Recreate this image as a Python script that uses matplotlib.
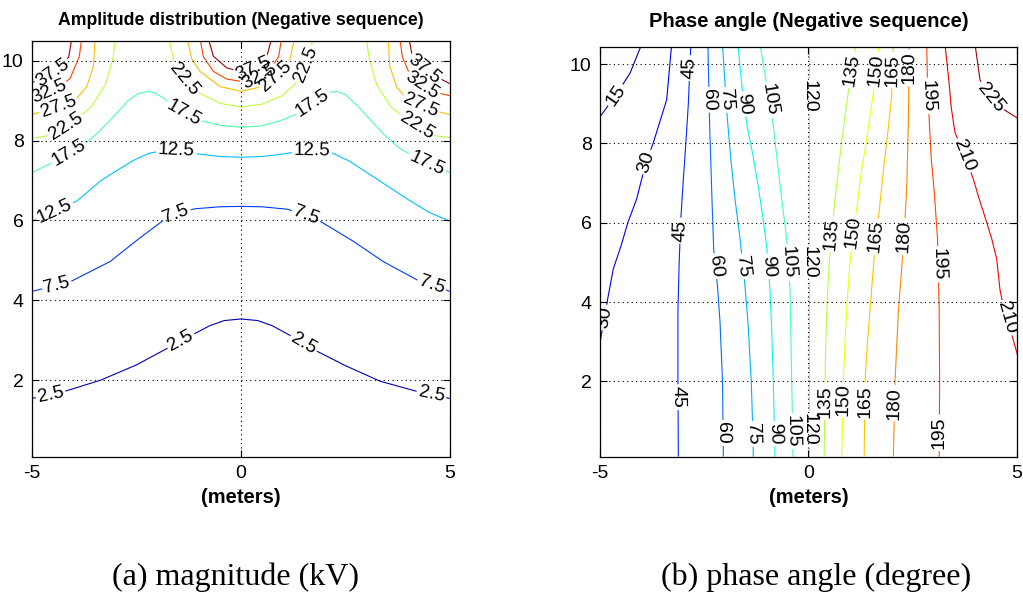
import numpy as np
import matplotlib
matplotlib.use("Agg")
import matplotlib.pyplot as plt
from matplotlib.contour import ContourSet
from matplotlib.colors import Normalize
from matplotlib import font_manager as fm

# ---------------- data ----------------
# (a) magnitude (kV): contour levels and the lines traced for each level (x in m, y in m)
amp_levels = [2.5, 7.5, 12.5, 17.5, 22.5, 27.5, 32.5, 37.5]
amp_2p5 = [[(-5, 1.54), (-4.3, 1.69), (-3.35, 2.0), (-2.5, 2.38), (-1.7, 2.83), (-1.15, 3.14),
            (-0.75, 3.36), (-0.4, 3.49), (0, 3.53), (0.4, 3.49), (0.75, 3.36), (1.17, 3.12),
            (1.82, 2.72), (2.5, 2.36), (3.33, 1.97), (4.3, 1.69), (5, 1.54)]]
amp_7p5 = [[(-5, 4.22), (-4.07, 4.47), (-3.13, 4.97), (-2.42, 5.56), (-1.78, 6.06), (-1.45, 6.2),
            (-1.1, 6.29), (-0.5, 6.34), (0, 6.35), (0.5, 6.34), (1.1, 6.28), (1.45, 6.17),
            (1.89, 5.98), (2.68, 5.48), (3.4, 4.97), (4.28, 4.47), (5, 4.22)]]
amp_12p5 = [[(-5, 5.98), (-4.5, 6.2), (-3.92, 6.49), (-3.35, 7.0), (-2.58, 7.5), (-2.2, 7.68),
             (-1.8, 7.76), (-1.4, 7.73), (-1.0, 7.66), (-0.5, 7.6), (0, 7.58), (0.5, 7.6),
             (1.0, 7.66), (1.4, 7.73), (1.8, 7.76), (2.2, 7.68), (2.6, 7.48), (3.3, 7.0),
             (4.0, 6.52), (4.5, 6.2), (5, 5.98)]]
amp_17p5 = [[(-5, 7.2), (-4.5, 7.45), (-3.7, 7.95), (-3.45, 8.17), (-3.05, 8.6), (-2.7, 9.0),
             (-2.45, 9.18), (-2.23, 9.23), (-2.05, 9.19), (-1.85, 9.06), (-1.6, 8.82),
             (-1.3, 8.63), (-0.98, 8.5), (-0.5, 8.38), (0, 8.33), (0.5, 8.37), (0.95, 8.5),
             (1.3, 8.65), (1.65, 8.9), (1.9, 9.1), (2.12, 9.21), (2.3, 9.23), (2.5, 9.15),
             (2.85, 8.8), (3.4, 8.17), (3.8, 7.8), (4.4, 7.45), (5, 7.2)]]
amp_22p5 = [[(-5, 8.05), (-4.57, 8.13), (-4.01, 8.47), (-3.58, 8.85), (-3.25, 9.39), (-3.07, 10.03),
             (-3.0, 10.55)],
            [(-1.72, 10.55), (-1.6, 9.95), (-1.35, 9.5), (-0.98, 9.18), (-0.5, 8.93), (0, 8.84),
             (0.5, 8.91), (0.98, 9.12), (1.3, 9.42), (1.55, 9.88), (1.73, 10.55)],
            [(3.0, 10.55), (3.07, 10.03), (3.25, 9.39), (3.58, 8.85), (4.01, 8.47), (4.57, 8.13),
             (5, 8.07)]]
amp_27p5 = [[(-5, 8.66), (-4.57, 8.76), (-4.0, 8.97), (-3.69, 9.35), (-3.53, 9.86), (-3.49, 10.55)],
            [(-1.29, 10.55), (-1.17, 10.03), (-0.98, 9.73), (-0.5, 9.35), (0, 9.23), (0.5, 9.35),
             (0.98, 9.73), (1.17, 10.03), (1.28, 10.55)],
            [(3.52, 10.55), (3.56, 9.86), (3.72, 9.35), (4.02, 8.97), (4.57, 8.76), (5, 8.65)]]
amp_32p5 = [[(-5, 9.1), (-4.5, 9.25), (-4.09, 9.55), (-3.87, 10.1), (-3.81, 10.55)],
            [(-0.98, 10.55), (-0.9, 10.1), (-0.66, 9.73), (-0.34, 9.54), (0, 9.48), (0.34, 9.54),
             (0.66, 9.73), (0.9, 10.1), (0.97, 10.55)],
            [(3.8, 10.55), (3.86, 10.1), (4.08, 9.55), (4.5, 9.25), (5, 9.12)]]
amp_37p5 = [[(-5, 9.45), (-4.4, 9.75), (-4.12, 10.1), (-4.05, 10.55)],
            [(-0.78, 10.55), (-0.66, 10.11), (-0.34, 9.82), (0, 9.72), (0.34, 9.82), (0.62, 10.11),
             (0.73, 10.55)],
            [(4.02, 10.55), (4.1, 10.1), (4.4, 9.75), (5, 9.42)]]
amp_lines = [amp_2p5, amp_7p5, amp_12p5, amp_17p5, amp_22p5, amp_27p5, amp_32p5, amp_37p5]

# (b) phase angle (degree)
ph_levels = [15, 30, 45, 60, 75, 90, 105, 120, 135, 150, 165, 180, 195, 210, 225]
ph_15 = [[(-5.05, 8.6), (-4.6, 9.25), (-4.28, 9.77), (-4.0, 10.5)]]
ph_30 = [[(-3.28, 10.5), (-3.4, 9.1), (-3.72, 8.02), (-3.9, 7.5), (-4.0, 7.1), (-4.12, 6.6),
          (-4.33, 6.01), (-4.5, 5.4), (-4.68, 4.84), (-4.83, 4.0), (-4.93, 3.4), (-5.02, 2.85)]]
ph_45 = [[(-3.12, 0.1), (-3.13, 2.0), (-3.13, 3.75), (-3.1, 5.0), (-3.06, 6.1), (-3.0, 7.1),
          (-2.94, 8.0), (-2.88, 9.0), (-2.82, 10.5)]]
ph_60 = [[(-2.04, 0.1), (-2.06, 2.0), (-2.12, 3.5), (-2.18, 4.4), (-2.27, 5.3), (-2.31, 6.5),
          (-2.34, 7.5), (-2.37, 8.5), (-2.41, 10.5)]]
ph_75 = [[(-1.32, 0.1), (-1.34, 1.0), (-1.37, 2.0), (-1.45, 3.5), (-1.52, 4.4), (-1.64, 5.6),
          (-1.76, 6.6), (-1.86, 7.6), (-1.95, 8.7), (-2.0, 9.5), (-2.06, 10.5)]]
ph_90 = [[(-0.8, 0.1), (-0.82, 1.0), (-0.84, 2.0), (-0.88, 3.3), (-0.92, 4.3), (-1.0, 5.4),
          (-1.1, 6.2), (-1.2, 6.9), (-1.33, 7.7), (-1.48, 8.5), (-1.6, 9.5), (-1.69, 10.5)]]
ph_105 = [[(-0.37, 0.1), (-0.38, 1.0), (-0.4, 2.0), (-0.44, 4.3), (-0.52, 5.6), (-0.64, 6.6),
           (-0.74, 7.5), (-0.84, 8.43), (-1.0, 9.5), (-1.16, 10.5)]]
ph_120 = [[(0.02, 0.1), (0.02, 10.5)]]
ph_135 = [[(0.38, 0.1), (0.39, 1.0), (0.4, 2.0), (0.42, 3.0), (0.45, 4.0), (0.5, 5.0), (0.57, 5.8),
           (0.64, 6.6), (0.75, 7.6), (0.88, 8.7), (1.0, 9.6), (1.14, 10.5)]]
ph_150 = [[(0.8, 0.1), (0.82, 1.0), (0.84, 2.0), (0.88, 3.0), (0.93, 4.0), (1.0, 5.0), (1.08, 5.8),
           (1.18, 6.5), (1.26, 7.2), (1.4, 8.1), (1.55, 9.2), (1.7, 10.5)]]
ph_165 = [[(1.34, 0.1), (1.35, 1.0), (1.36, 2.0), (1.42, 3.0), (1.48, 3.8), (1.6, 5.4), (1.7, 6.3),
           (1.76, 6.9), (1.82, 7.5), (1.92, 8.4), (2.0, 9.2), (2.04, 10.5)]]
ph_180 = [[(2.04, 0.1), (2.06, 1.0), (2.08, 2.0), (2.16, 3.75), (2.28, 5.4), (2.36, 6.85),
           (2.4, 8.5), (2.42, 10.5)]]
ph_195 = [[(3.14, 0.1), (3.15, 2.0), (3.14, 3.8), (3.1, 5.6), (3.02, 6.8), (2.95, 7.6),
           (2.9, 8.6), (2.86, 9.5), (2.84, 10.5)]]
ph_210 = [[(5.05, 2.55), (4.85, 3.3), (4.68, 3.9), (4.6, 4.3), (4.52, 5.09), (4.4, 5.6), (4.28, 6.01),
           (4.1, 6.6), (3.96, 7.1), (3.75, 7.7), (3.52, 8.27), (3.43, 8.9), (3.38, 9.5), (3.28, 10.5)]]
ph_225 = [[(4.0, 10.5), (4.12, 9.6), (4.4, 9.1), (4.7, 8.85), (5.05, 8.62)]]
ph_lines = [ph_15, ph_30, ph_45, ph_60, ph_75, ph_90, ph_105, ph_120, ph_135, ph_150, ph_165,
            ph_180, ph_195, ph_210, ph_225]

# ---------------- label placement (layout) ----------------
amp_label_at = [
    (2.5, -4.55, 1.62), (2.5, -1.45, 3.0), (2.5, 1.5, 2.92), (2.5, 4.55, 1.62),
    (7.5, -4.4, 4.35), (7.5, -1.55, 6.15), (7.5, 1.55, 6.1), (7.5, 4.55, 4.35),
    (12.5, -4.45, 6.2), (12.5, -1.55, 7.74), (12.5, 1.7, 7.72),
    (17.5, -4.1, 7.65), (17.5, -1.4, 8.65), (17.5, 1.7, 8.95), (17.5, 4.45, 7.45),
    (22.5, -4.2, 8.37), (22.5, -1.4, 9.52), (22.5, 1.55, 9.9), (22.5, 4.2, 8.35),
    (27.5, -4.36, 8.85), (27.5, 0.85, 9.6), (27.5, 4.3, 8.9),
    (32.5, -4.6, 9.25), (32.5, 0.45, 9.58), (32.5, 4.35, 9.4),
    (37.5, -4.5, 9.7), (37.5, 0.3, 9.76), (37.5, 4.4, 9.8),
]
ph_label_at = [
    (15, -4.6, 9.2), (30, -3.85, 7.52), (30, -4.83, 3.6),
    (45, -2.85, 9.9), (45, -3.06, 5.8), (45, -3.13, 1.6),
    (60, -2.39, 9.1), (60, -2.26, 4.9), (60, -2.05, 0.7),
    (75, -2.0, 9.1), (75, -1.57, 4.9), (75, -1.33, 0.68),
    (90, -1.55, 9.0), (90, -0.96, 4.9), (90, -0.81, 0.68),
    (105, -0.94, 9.1), (105, -0.49, 5.0), (105, -0.38, 0.75),
    (120, 0.02, 9.2), (120, 0.02, 5.0), (120, 0.02, 0.8),
    (135, 1.04, 9.85), (135, 0.55, 5.7), (135, 0.39, 1.5),
    (150, 1.62, 9.85), (150, 1.07, 5.75), (150, 0.83, 1.55),
    (165, 2.02, 9.85), (165, 1.63, 5.65), (165, 1.36, 1.5),
    (180, 2.42, 9.9), (180, 2.3, 5.65), (180, 2.07, 1.45),
    (195, 2.88, 9.2), (195, 3.11, 4.95), (195, 3.14, 0.7),
    (210, 3.75, 7.7), (210, 4.75, 3.6),
    (225, 4.35, 9.15),
]

x_ticks = [-5, 0, 5]
y_ticks = [2, 4, 6, 8, 10]


# ---------------- fonts ----------------
def has_font(name):
    try:
        fm.findfont(fm.FontProperties(family=name), fallback_to_default=False)
        return True
    except Exception:
        return False


plt.rcParams['font.family'] = ['Liberation Sans', 'DejaVu Sans']
plt.rcParams['axes.unicode_minus'] = False
NARROW = has_font('Liberation Sans Narrow')
narrow_fam = ['Liberation Sans Narrow', 'Liberation Sans', 'DejaVu Sans'] if NARROW else ['Liberation Sans', 'DejaVu Sans']


def on_line(segs, x, y):
    best = None
    for s in segs:
        for (x0, y0), (x1, y1) in zip(s[:-1], s[1:]):
            dx, dy = x1 - x0, y1 - y0
            t = ((x - x0) * dx + (y - y0) * dy) / (dx * dx + dy * dy)
            t = min(max(t, 0.0), 1.0)
            px, py = x0 + t * dx, y0 + t * dy
            d = (px - x) ** 2 + (py - y) ** 2
            if best is None or d < best[0]:
                best = (d, px, py)
    return best[1], best[2]


def style_axes(ax, ylim, xlabel_y):
    ax.set_xlim(-5, 5)
    ax.set_ylim(*ylim)
    ax.set_xticks(x_ticks)
    ax.set_yticks(y_ticks)
    ax.tick_params(direction='in', length=5, width=0.8, top=True, right=True,
                   labelsize=14, pad=6)
    ax.grid(True, color='black', linestyle=(0, (1, 3)), linewidth=0.8)
    ax.set_axisbelow(False)
    for sp in ax.spines.values():
        sp.set_linewidth(0.9)
        sp.set_color('black')
    ax.set_xlabel('(meters)', family=narrow_fam, fontweight='bold',
                  fontsize=17.5 if NARROW else 14.5)
    ax.xaxis.set_label_coords(0.5, xlabel_y)


def draw_contours(ax, levels, lines, vmin, vmax, label_at, fsize):
    allsegs = [[np.array(s, dtype=float) for s in segs] for segs in lines]
    cs = ContourSet(ax, levels, allsegs, cmap='jet', norm=Normalize(vmin, vmax),
                    linewidths=0.8)
    pos = [on_line(allsegs[levels.index(lv)], x, y) for lv, x, y in label_at]
    ax.clabel(cs, manual=pos, inline=True, inline_spacing=2, fmt='%g',
              fontsize=fsize, colors='black')
    return cs


fig = plt.figure(figsize=(10.23, 5.98), dpi=100)
W, H = 1023.0, 598.0
ax1 = fig.add_axes([32 / W, 1 - 456.7 / H, 418 / W, 416 / H])
ax2 = fig.add_axes([600 / W, 1 - 456.7 / H, 416.7 / W, 410 / H])

style_axes(ax1, (0.08, 10.5), -0.075)
style_axes(ax2, (0.1, 10.44), -0.076)

ax1.set_title('Amplitude distribution (Negative sequence)', family=narrow_fam,
              fontweight='bold', fontsize=15.5 if NARROW else 12.7, pad=11)
ax2.set_title('Phase angle (Negative sequence)', family=['Liberation Sans', 'DejaVu Sans'],
              fontweight='bold', fontsize=14.5, pad=14)

draw_contours(ax1, amp_levels, amp_lines, 0.6, 38.6, amp_label_at, 13.5)
draw_contours(ax2, ph_levels, ph_lines, 8.3, 231.7, ph_label_at, 14)
ax1.set_xlim(-5, 5); ax1.set_ylim(0.08, 10.5)
ax2.set_xlim(-5, 5); ax2.set_ylim(0.1, 10.44)

fig.text(235.5 / W, 1 - 585 / H, '(a) magnitude (kV)', family=['Liberation Serif', 'DejaVu Serif'],
         fontsize=23, ha='center', va='baseline')
fig.text(816.5 / W, 1 - 585 / H, '(b) phase angle (degree)', family=['Liberation Serif', 'DejaVu Serif'],
         fontsize=23, ha='center', va='baseline')

fig.savefig('out.png', dpi=100)
